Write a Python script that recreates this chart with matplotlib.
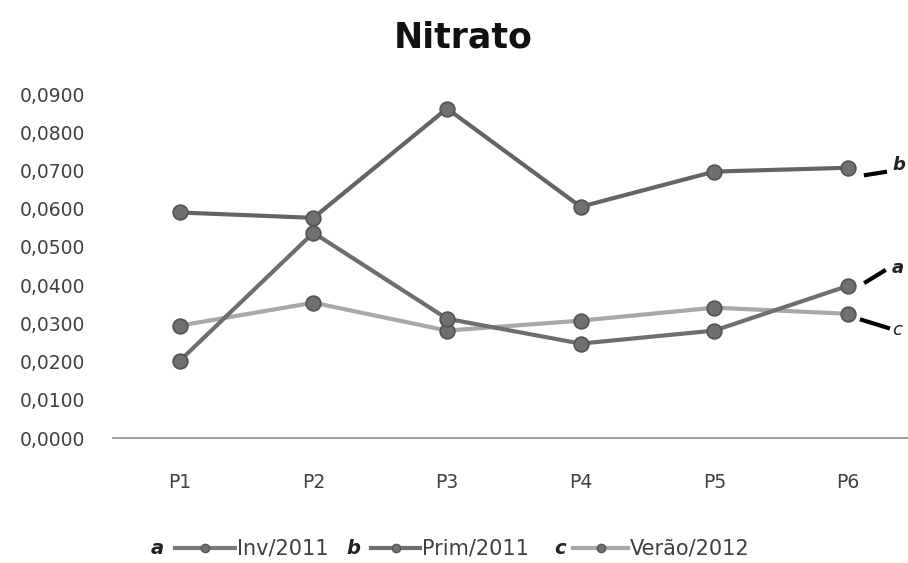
import numpy as np
import matplotlib.pyplot as plt
from matplotlib.lines import Line2D

# Data
pontos = ['P1', 'P2', 'P3', 'P4', 'P5', 'P6']
inv_2011 = [0.0202, 0.0537, 0.0312, 0.0247, 0.0281, 0.0398]
prim_2011 = [0.0590, 0.0576, 0.0862, 0.0605, 0.0697, 0.0707]
verao_2012 = [0.0294, 0.0354, 0.0281, 0.0307, 0.0341, 0.0325]
yticks = np.arange(0, 0.0901, 0.01)

fig = plt.figure(figsize=(9.08, 5.63), dpi=100)
ax = fig.add_axes([113/908, 125/563, (908-113)/908, 344/563])

x = np.arange(len(pontos))
mk = dict(marker='o', markersize=10.5, markerfacecolor='#707070',
          markeredgecolor='#555555', markeredgewidth=1.3)
ax.plot(x, verao_2012, color='#a8a8a8', lw=3, **mk)
ax.plot(x, inv_2011, color='#6e6e6e', lw=3, **mk)
ax.plot(x, prim_2011, color='#646464', lw=3, **mk)

ax.set_xlim(-0.5, 5.45)
ax.set_ylim(0, 0.09)
ax.set_yticks(yticks)
ax.set_yticklabels(['{:.4f}'.format(v).replace('.', ',') for v in yticks])
ax.set_xticks(x)
ax.set_xticklabels(pontos)
ax.tick_params(axis='y', length=0, pad=20, labelsize=13.5, labelcolor='#404040')
ax.tick_params(axis='x', length=0, pad=25, labelsize=13.5, labelcolor='#404040')
for s in ['top', 'right', 'left']:
    ax.spines[s].set_visible(False)
ax.spines['bottom'].set_color('#8c8c8c')
ax.spines['bottom'].set_linewidth(1.2)
ax.spines['bottom'].set_zorder(0)

fig.text(463/908, 1 - 38/563, 'Nitrato', ha='center', va='center',
         fontsize=25, fontweight='bold', color='#111111')

# labels next to the last points
last = len(pontos) - 1
marcas = [(prim_2011[last], 'b', (5.135, 5.277), (-0.0019, -0.0011), 0.0007, 'bold'),
          (inv_2011[last], 'a', (5.135, 5.27), (0.0010, 0.0039), 0.0047, 'bold'),
          (verao_2012[last], 'c', (5.105, 5.30), (-0.0016, -0.0037), -0.0042, 'normal')]
for val, lab, xs, dys, dyt, fw in marcas:
    ax.plot(xs, [val + dys[0], val + dys[1]], color='black', lw=3, clip_on=False)
    ax.text(5.33, val + dyt, lab, fontsize=13, fontstyle='italic', fontweight=fw,
            color='#222222', ha='left', va='center')

# legend drawn manually
ly = 1 - 548/563
items = [('a', 'Inv/2011', '#7a7a7a', 157, 175, 235),
         ('b', 'Prim/2011', '#6e6e6e', 353, 371, 420),
         ('c', 'Verão/2012', '#a8a8a8', 560, 573, 628)]
for letter, name, col, px, x0, x1 in items:
    fig.text(px/908, ly, letter, ha='center', va='center', fontsize=14,
             fontstyle='italic', fontweight='bold', color='#222222')
    fig.add_artist(Line2D([x0/908, x1/908], [ly, ly], color=col, lw=3))
    fig.add_artist(Line2D([(x0 + x1)/2/908], [ly], marker='o', markersize=6,
                          markerfacecolor='#707070', markeredgecolor='#555555'))
    fig.text((x1 + 2)/908, ly, name, ha='left', va='center', fontsize=15,
             color='#404040')

fig.savefig('out.png', dpi=100)
